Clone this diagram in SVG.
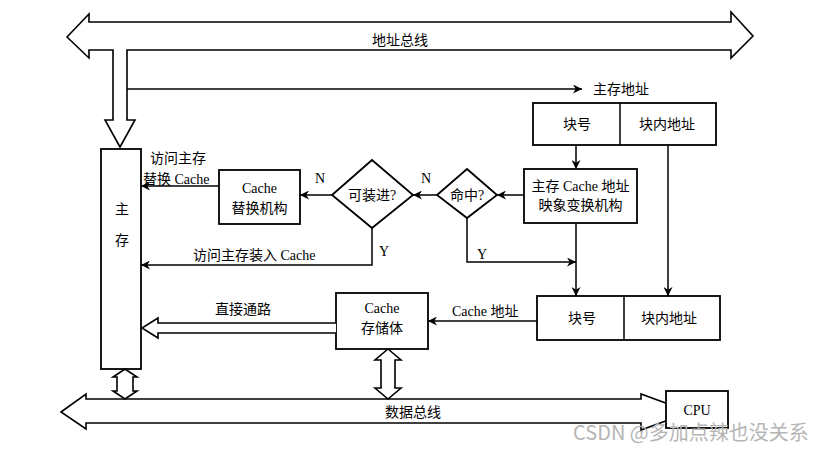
<svg xmlns="http://www.w3.org/2000/svg" width="825" height="452" viewBox="0 0 825 452">
<defs>
<style>
.s{fill:none;stroke:#000;stroke-width:1.5}
.b{fill:#fff;stroke:#000;stroke-width:1.8}
.h{fill:#fff;stroke:#000;stroke-width:1.6;stroke-linejoin:miter}
text{font-family:"Liberation Serif","Noto Sans CJK SC",serif;font-size:14px;fill:#000}
.c{text-anchor:middle}
.wm{font-family:"Noto Sans CJK SC","Noto Sans",sans-serif;font-size:20px;fill:#b5b5b5}
</style>
<marker id="a" viewBox="0 0 10 10" refX="10" refY="5" markerWidth="9" markerHeight="9" markerUnits="userSpaceOnUse" orient="auto">
<path d="M0,0 L10,5 L0,10 L3,5 Z" fill="#000"/>
</marker>
</defs>
<rect width="825" height="452" fill="#fff"/>

<g id="address-bus">
<path class="h" d="M67,37 L89,14 L89,22 L731,22 L731,12 L753,36 L731,58 L731,50 L127,50 L127,120 L135,120 L120,147 L105,120 L113,120 L113,50 L89,50 L89,58 Z"/>
<text class="c" x="400" y="45" font-size="13">地址总线</text>
</g>

<g id="data-bus">
<path class="h" d="M61,412 L86,394 L86,399 L641,399 L641,394 L690,412 L641,430 L641,423 L86,423 L86,429 Z"/>
<text x="385" y="417">数据总线</text>
</g>

<g id="main-memory">
<rect class="b" x="101" y="149" width="40" height="220"/>
<text class="c" x="122" y="214">主</text>
<text class="c" x="122" y="245">存</text>
</g>

<g id="cache-replace">
<rect class="b" x="219" y="170" width="81" height="54"/>
<text class="c" x="259.5" y="193">Cache</text>
<text class="c" x="259.5" y="213">替换机构</text>
</g>

<g id="can-load">
<path class="b" d="M372,160 L413,195 L372,228 L332,195 Z"/>
<text class="c" x="372" y="200">可装进?</text>
</g>

<g id="hit">
<path class="b" d="M467,169 L497,195 L467,218 L437,195 Z"/>
<text class="c" x="467" y="200">命中?</text>
</g>

<g id="mapping">
<rect class="b" x="524" y="169" width="113" height="54"/>
<text class="c" x="580.5" y="191">主存 Cache 地址</text>
<text class="c" x="580.5" y="210">映象变换机构</text>
</g>

<g id="main-address">
<rect class="b" x="533" y="103" width="183" height="42"/>
<line class="s" x1="620" y1="103" x2="620" y2="145"/>
<text class="c" x="577" y="129">块号</text>
<text class="c" x="667" y="129">块内地址</text>
<text x="593" y="94">主存地址</text>
</g>

<g id="cache-address">
<rect class="b" x="537" y="296" width="183" height="44"/>
<line class="s" x1="624" y1="296" x2="624" y2="340"/>
<text class="c" x="582" y="323">块号</text>
<text class="c" x="669" y="323">块内地址</text>
</g>

<g id="cache-memory">
<rect class="b" x="336" y="293" width="92" height="56"/>
<text class="c" x="382" y="313">Cache</text>
<text class="c" x="382" y="333">存储体</text>
</g>

<g id="cpu">
<rect class="b" x="666" y="391" width="62" height="37"/>
<text class="c" x="697" y="415">CPU</text>
</g>

<g id="connectors">
<line class="s" x1="127" y1="89" x2="582" y2="89" marker-end="url(#a)"/>
<line class="s" x1="576" y1="145" x2="576" y2="169" marker-end="url(#a)"/>
<line class="s" x1="524" y1="195" x2="497" y2="195" marker-end="url(#a)"/>
<line class="s" x1="437" y1="195" x2="413" y2="195" marker-end="url(#a)"/>
<line class="s" x1="332" y1="195" x2="300" y2="195" marker-end="url(#a)"/>
<line class="s" x1="219" y1="186" x2="141" y2="186" marker-end="url(#a)"/>
<polyline class="s" points="372,228 372,265 141,265" marker-end="url(#a)"/>
<polyline class="s" points="467,218 467,262 576,262" marker-end="url(#a)"/>
<line class="s" x1="576" y1="223" x2="576" y2="296" marker-end="url(#a)"/>
<line class="s" x1="668" y1="145" x2="668" y2="296" marker-end="url(#a)"/>
<line class="s" x1="537" y1="321" x2="428" y2="321" marker-end="url(#a)"/>
<path class="h" d="M336,323 L158,323 L158,318 L142,328 L158,338 L158,333 L336,333"/>
<path class="h" d="M125,369 L137,377 L133,377 L133,391 L137,391 L125,399 L113,391 L117,391 L117,377 L113,377 Z"/>
<path class="h" d="M388,349 L401,360 L395,360 L395,388 L401,388 L388,399 L375,388 L381,388 L381,360 L375,360 Z"/>
<text x="315" y="183">N</text>
<text x="421" y="183">N</text>
<text x="379" y="256">Y</text>
<text x="477" y="259">Y</text>
<text x="150" y="163">访问主存</text>
<text x="143" y="184">替换 Cache</text>
<text x="193" y="260">访问主存装入 Cache</text>
<text x="215" y="314">直接通路</text>
<text x="452" y="316">Cache 地址</text>
</g>

<text class="wm" x="573" y="440">CSDN @多加点辣也没关系</text>
</svg>
